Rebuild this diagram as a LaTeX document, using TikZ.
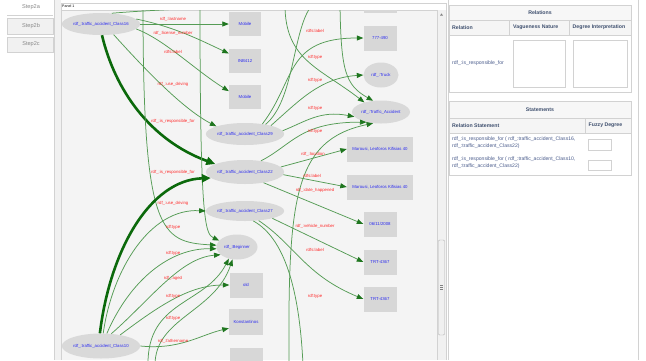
\documentclass[tikz,border=0pt]{standalone}
\usepackage{fontspec}
\setmainfont{Liberation Sans}
\usetikzlibrary{arrows.meta,shapes.geometric}
\definecolor{edgegreen}{HTML}{559C55}
\definecolor{tipgreen}{HTML}{1F761F}
\definecolor{thickgreen}{HTML}{0B690B}
\definecolor{nodegray}{HTML}{D9D9D9}
\definecolor{boxgray}{HTML}{D7D7D7}
\definecolor{lblred}{HTML}{FF2B2B}
\definecolor{nodeblue}{HTML}{2B2BF0}
\definecolor{panelbg}{HTML}{F4F4F4}
\definecolor{bordergray}{HTML}{D2D2D2}
\definecolor{hdrtext}{HTML}{3E4F6E}
\definecolor{cellblue}{HTML}{4A5C8C}
\definecolor{tabgray}{HTML}{F1F1F1}
\definecolor{tabtext}{HTML}{8A8A8A}
\begin{document}
\begin{tikzpicture}[x=1pt,y=-1pt,
  ell/.style={ellipse, fill=nodegray, draw=none, inner sep=0pt, minimum width=#1, minimum height=22pt, text=nodeblue, font=\fontsize{4.3}{5}\selectfont},
  bx/.style={rectangle, fill=boxgray, draw=none, inner sep=0pt, minimum width=#1, minimum height=25pt, text=nodeblue, font=\fontsize{4.3}{5}\selectfont},
  gedge/.style={draw=edgegreen, line width=0.75pt, -{Triangle[length=6.5pt,width=5pt,color=tipgreen]}},
  gline/.style={draw=edgegreen, line width=0.75pt},
  resp/.style={draw=thickgreen, line width=2.6pt, -{Triangle[length=9pt,width=8pt,color=thickgreen]}},
  lbl/.style={text=lblred, inner sep=0pt, font=\fontsize{4.3}{5}\selectfont},
  tabbox/.style={draw=bordergray, fill=tabgray, line width=0.4pt},
  tabtxt/.style={text=tabtext, inner sep=0pt, font=\fontsize{5.6}{6}\selectfont},
  hdr/.style={text=hdrtext, inner sep=0pt, font=\fontsize{5.2}{6}\selectfont\bfseries},
  cell/.style={text=cellblue, inner sep=0pt, font=\fontsize{5.1}{7}\selectfont, align=left},
  frame/.style={draw=bordergray, line width=0.5pt},
]
\useasboundingbox (0,0) rectangle (646,360);
\fill[white] (0,0) rectangle (646,360);

% ---------- left sidebar ----------
\fill[tabgray] (54,0) rectangle (61,360);
\draw[bordergray, line width=0.4pt] (54,0) -- (54,360);
\fill[white] (7,0) rectangle (53,15);
\draw[bordergray, line width=0.5pt] (7,15.3) -- (53,15.3);
\draw[tabbox] (7,18) rectangle (53,34);
\draw[tabbox] (7,37) rectangle (53,52);
\node[tabtxt] (s2a) at (31,7.5) {Step2a};
\node[tabtxt] (s2b) at (31,26) {Step2b};
\node[tabtxt] (s2c) at (31,44.5) {Step2c};

% ---------- graph panel ----------
\fill[panelbg] (61,3) rectangle (446,360);
\fill[white] (61,3) rectangle (446,10);
\draw[frame] (446,360) -- (446,3) -- (61,3) -- (61,360);
\draw[frame] (61,10) -- (446,10);
\node[anchor=west, inner sep=0pt, font=\fontsize{3.6}{4}\selectfont] (ptitle) at (62,6.6) {Panel 1};

% scrollbar
\fill[tabgray] (437,10.3) rectangle (445.7,360);
\draw[bordergray, line width=0.4pt] (437,10.3) -- (437,360);
\fill[gray] (440,15.6) -- (443,15.6) -- (441.5,13.4) -- cycle;
\draw[draw=gray!60, fill=gray!12, line width=0.4pt, rounded corners=1pt] (438.5,240) rectangle (444.5,335);
\foreach \yy in {285,287,289} \draw[gray, line width=0.3pt] (440,\yy) -- (443,\yy);

% ---------- graph content ----------
\begin{scope}
\clip (61.5,10.3) rectangle (436.8,360);

\node[ell=77] (c16) at (101,24) {rdf\_:traffic\_accident\_Class16};
\node[bx=32, minimum height=24pt] (mob1) at (245,24) {Mobile};
\node[bx=32, minimum height=24pt] (inb) at (245,61) {INB412};
\node[bx=32, minimum height=24pt] (mob2) at (245,97) {Mobile};
\node[bx=33] (btop) at (380,0) {};
\node[bx=33] (b777) at (380,38) {777-490};
\node[ell=35, minimum height=25pt] (truck) at (381,75) {rdf\_:Truck};
\node[ell=58, minimum height=23pt] (ta) at (381,112) {rdf\_:Traffic\_Accident};
\node[ell=76] (c29) at (245,134) {rdf\_:traffic\_accident\_Class29};
\node[bx=66] (mar1) at (380,149) {Marousi, Leoforos Kifisias 40};
\node[ell=76, minimum height=24pt] (c22) at (245,172) {rdf\_:traffic\_accident\_Class22};
\node[bx=66] (mar2) at (380,187) {Marousi, Leoforos Kifisias 40};
\node[ell=76, minimum height=20pt] (c27) at (245,211) {rdf\_:traffic\_accident\_Class27};
\node[bx=33] (date) at (380,224) {06/11/2008};
\node[ell=41, minimum height=25pt] (beg) at (237,247) {rdf\_:Beginner};
\node[bx=33] (trt1) at (380,262) {TRT-4367};
\node[bx=33] (old) at (246,285) {old};
\node[bx=33] (trt2) at (380,299) {TRT-4367};
\node[bx=34, minimum height=26pt] (kon) at (246,322) {Konstantinos};
\node[bx=33] (bbot) at (246,360) {};
\node[ell=77, minimum height=25pt] (c10) at (101,346) {rdf\_:traffic\_accident\_Class10};

% off-screen ends
\coordinate (t1) at (285,5);
\coordinate (t2) at (340,5);
\coordinate (t3) at (312,5);
\coordinate (t4) at (143,5);
\coordinate (t5) at (200,5);
\coordinate (t6) at (232,6);
\coordinate (u1) at (289,365);
\coordinate (u2) at (303,365);
\coordinate (u3) at (148,365);
\coordinate (u4) at (155,365);

% edges from Class16
\draw[gedge] (c16.east) -- (mob1.west);
\draw[gedge] (c16.8) .. controls (175,27) and (200,40) .. (inb.155);
\draw[gedge] (c16.-8) .. controls (165,40) and (195,70) .. (mob2.160);
\draw[gedge] (c16.-40) .. controls (150,75) and (185,110) .. (c29.165);
\draw[gline] (c16.45) .. controls (150,10) and (190,9) .. (t6);
\draw[resp] (c16.-85) .. controls (115,90) and (150,140) .. (c22.165);

% vertical lines to Beginner
\draw[gedge] (t4) .. controls (143,232) and (160,242) .. (beg.175);
\draw[gedge] (t5) .. controls (200,220) and (205,234) .. (beg.160);
\draw[gedge] (u3) .. controls (147,300) and (205,305) .. (beg.235);
\draw[gedge] (u4) .. controls (155,318) and (215,312) .. (beg.250);

% right side
\draw[gedge] (t1) .. controls (285,60) and (320,68) .. (ta.150);
\draw[gedge] (t2) .. controls (341,70) and (345,85) .. (ta.125);
\draw[gline] (c29.25) .. controls (295,100) and (292,30) .. (t3);
\draw[gedge] (c29.30) .. controls (296,80) and (285,38) .. (b777.west);
\draw[gedge] (c29.18) .. controls (300,100) and (320,78) .. (truck.west);
\draw[gedge] (c29.5) .. controls (305,122) and (320,110) .. (ta.190);
\draw[gedge] (c22.35) .. controls (292,145) and (300,122) .. (ta.215);
\draw[gedge] (u1) .. controls (288,200) and (293,140) .. (ta.235);
\draw[gedge] (c22.8) -- (mar1.west);
\draw[gedge] (c22.-4) -- (mar2.west);
\draw[gedge] (c22.-30) -- (date.west);
\draw[gedge] (c27.-15) -- (trt1.west);
\draw[gedge] (c27.-35) .. controls (295,245) and (305,275) .. (trt2.west);
\draw[gline] (c27.-50) .. controls (288,240) and (300,300) .. (u2);

% edges from Class10
\draw[resp] (c10.95) .. controls (110,250) and (150,180) .. (c22.190);
\draw[gedge] (c10.80) .. controls (112,270) and (150,208) .. (c27.west);
\draw[gedge] (c10.65) .. controls (130,280) and (170,248) .. (beg.185);
\draw[gedge] (c10.50) .. controls (150,300) and (180,258) .. (beg.205);
\draw[gedge] (c10.30) .. controls (160,305) and (190,285) .. (old.west);
\draw[gedge] (c10.east) .. controls (180,350) and (200,335) .. (kon.200);

% labels
\node[lbl] (l1) at (173,19) {rdf\_:lastname};
\node[lbl] (l2) at (173,33) {rdf\_:license\_number};
\node[lbl] (l3) at (173,52) {rdfs:label};
\node[lbl] (l4) at (173,84) {rdf\_:use\_driving};
\node[lbl] (l5) at (173,121) {rdf\_:is\_responsible\_for};
\node[lbl] (l6) at (173,172) {rdf\_:is\_responsible\_for};
\node[lbl] (l7) at (173,203) {rdf\_:use\_driving};
\node[lbl] (l8) at (173,227) {rdf:type};
\node[lbl] (l9) at (173,253) {rdf:type};
\node[lbl] (l10) at (173,278) {rdf\_:aged};
\node[lbl] (l11) at (173,296) {rdf:type};
\node[lbl] (l12) at (173,318) {rdf:type};
\node[lbl] (l13) at (173,341) {rdf\_:fathername};
\node[lbl] (m1) at (315,31) {rdfs:label};
\node[lbl] (m2) at (315,57) {rdf:type};
\node[lbl] (m3) at (315,80) {rdf:type};
\node[lbl] (m4) at (315,108) {rdf:type};
\node[lbl] (m5) at (315,131) {rdf:type};
\node[lbl] (m6) at (313,154) {rdf\_:location};
\node[lbl] (m7) at (312,176) {rdfs:label};
\node[lbl] (m8) at (315,190) {rdf\_:date\_happened};
\node[lbl] (m9) at (315,226) {rdf\_:vehicle\_number};
\node[lbl] (m10) at (315,250) {rdfs:label};
\node[lbl] (m11) at (315,296) {rdf:type};
\end{scope}

% ---------- right area ----------
\draw[bordergray, line width=0.4pt] (448,0) -- (448,360);
\draw[bordergray, line width=0.4pt] (638,0) -- (638,360);

% Relations
\fill[white] (449,5) rectangle (631,92);
\fill[tabgray!60] (449,5) rectangle (631,20);
\fill[tabgray!70] (449,20) rectangle (631,35);
\draw[frame] (449,5) rectangle (631,92);
\draw[frame] (449,20) -- (631,20);
\draw[frame] (449,35) -- (631,35);
\draw[frame] (509,20) -- (509,35);
\draw[frame] (569,20) -- (569,35);
\node[hdr] (relh) at (540,12.5) {Relations};
\node[hdr, anchor=west] (relc1) at (452,27.5) {Relation};
\node[hdr, anchor=west] (relc2) at (513,27.5) {Vagueness Nature};
\node[hdr, anchor=west] (relc3) at (572.5,27.5) {Degree Interpretation};
\node[cell, anchor=west] (relr1) at (452,63) {rdf\_:is\_responsible\_for};
\draw[draw=bordergray, fill=white, line width=0.5pt] (513,40) rectangle (565,87);
\draw[draw=bordergray, fill=white, line width=0.5pt] (573,40) rectangle (627,87);

% Statements
\fill[white] (449,101) rectangle (631,175);
\fill[tabgray!60] (449,101) rectangle (631,118);
\fill[tabgray!70] (449,118) rectangle (631,133);
\draw[frame] (449,101) rectangle (631,175);
\draw[frame] (449,118) -- (631,118);
\draw[frame] (449,133) -- (631,133);
\draw[frame] (585,118) -- (585,133);
\node[hdr] (sth) at (540,109.5) {Statements};
\node[hdr, anchor=west] (stc1) at (452,125.5) {Relation Statement};
\node[hdr, anchor=west] (stc2) at (588.5,125.5) {Fuzzy Degree};
\node[cell, anchor=north west] (str1) at (452,136.5) {rdf\_:is\_responsible\_for ( rdf\_:traffic\_accident\_Class16,\\rdf\_:traffic\_accident\_Class22)};
\node[cell, anchor=north west] (str2) at (452,157) {rdf\_:is\_responsible\_for ( rdf\_:traffic\_accident\_Class10,\\rdf\_:traffic\_accident\_Class22)};
\draw[draw=bordergray, fill=white, line width=0.5pt] (588,139) rectangle (611,150);
\draw[draw=bordergray, fill=white, line width=0.5pt] (588,160) rectangle (611,170);
\end{tikzpicture}
\end{document}
